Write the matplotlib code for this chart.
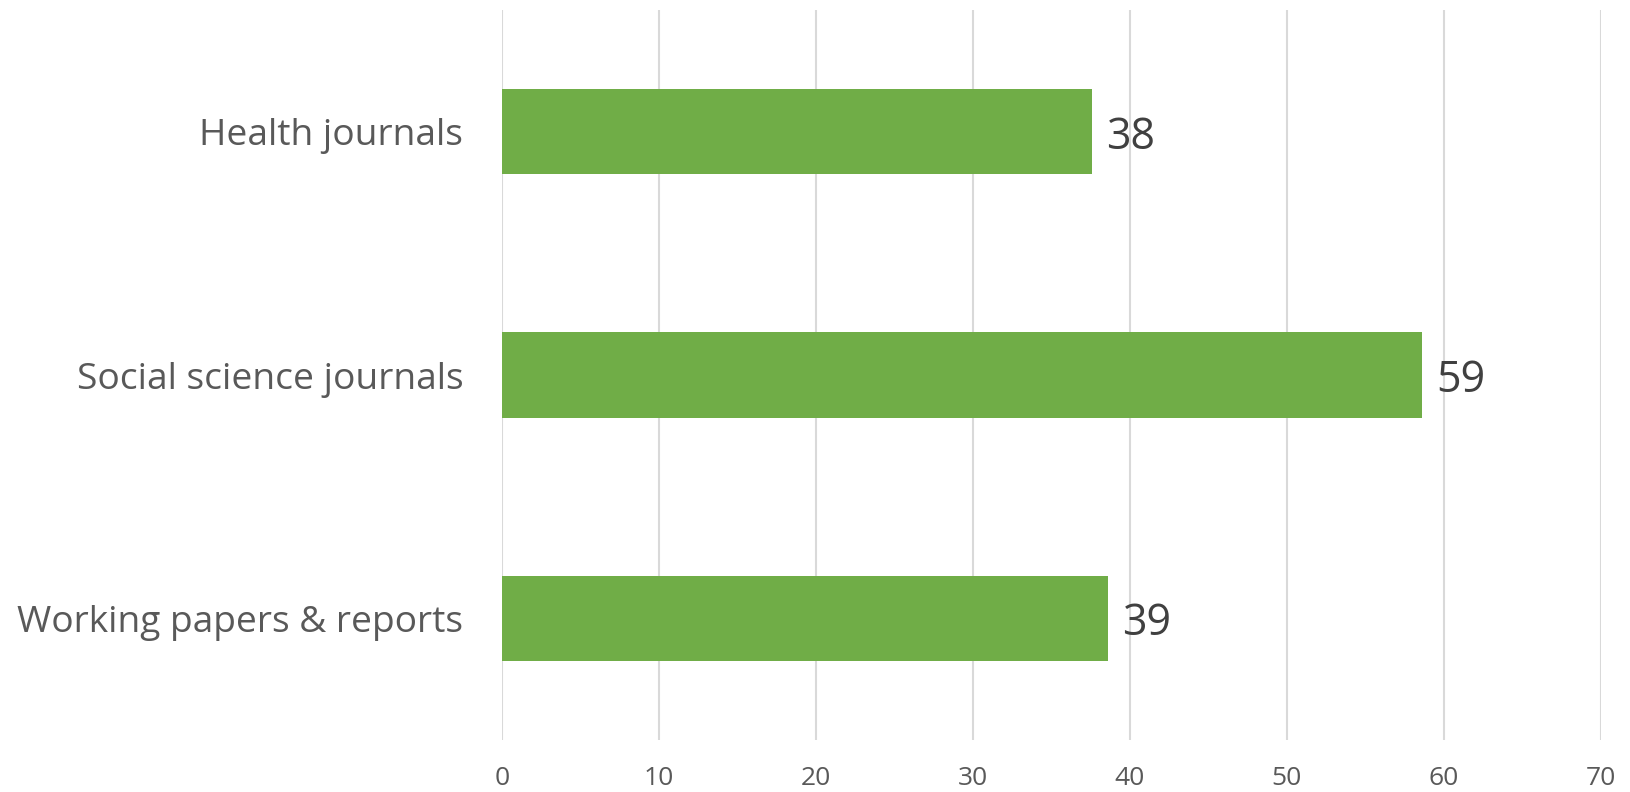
import matplotlib.pyplot as plt

categories = ["Health journals", "Social science journals", "Working papers & reports"]
values = [37.6, 58.6, 38.6]
x_ticks = [0, 10, 20, 30, 40, 50, 60, 70]

plt.rcParams['font.family'] = ['Open Sans', 'DejaVu Sans']

fig = plt.figure(figsize=(16.3, 7.92), dpi=100)
ax = fig.add_axes([0.308, 0.066, 0.674, 0.921])

pos = list(range(len(categories)))
bars = ax.barh(pos, values, height=0.35, color="#70AD47", zorder=3)

# value labels to the right of each bar
for b, v in zip(bars, values):
    ax.text(b.get_width() + 0.9, b.get_y() + b.get_height() / 2, f"{v:.0f}",
            va="center_baseline", ha="left", fontsize=31, color="#404040")

ax.set_yticks(pos)
ax.set_yticklabels(categories, fontsize=26.7, color="#595959")
ax.set_ylim(2.5, -0.5)
ax.set_xlim(0, 70)
ax.set_xticks(x_ticks)
ax.set_xticklabels([str(t) for t in x_ticks], fontsize=19, color="#595959")

ax.grid(axis="x", color="#D9D9D9", linewidth=1.5, zorder=0)
for s in ax.spines.values():
    s.set_visible(False)
ax.tick_params(axis="both", length=0)
ax.tick_params(axis="y", pad=28)
ax.tick_params(axis="x", pad=19)

plt.savefig("out.png")
